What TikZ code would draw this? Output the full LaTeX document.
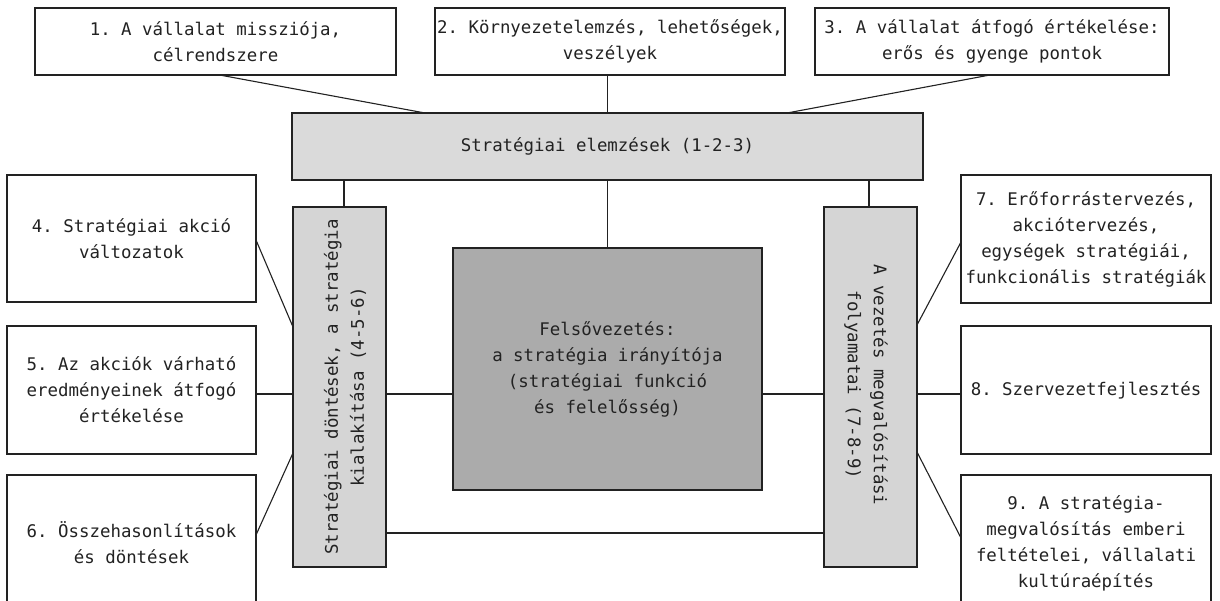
\documentclass[tikz,border=0pt]{standalone}
\usepackage{fontspec}
\setmonofont{DejaVu Sans Mono}
\usetikzlibrary{calc}
\definecolor{ink}{HTML}{222222}
\definecolor{lightfill}{HTML}{DADADA}
\definecolor{barfill}{HTML}{D5D5D5}
\definecolor{darkfill}{HTML}{ABABAB}
\tikzset{
  txt/.style={font=\ttfamily\fontsize{17.4}{26}\selectfont, align=center, text=ink},
  frame/.style={draw=ink, line width=1.2pt, fill=white, inner sep=0pt, outer sep=0pt, txt},
  lightbox/.style={frame, fill=lightfill},
  sidebar/.style={frame, fill=barfill},
  corebox/.style={frame, fill=darkfill},
  link/.style={draw=ink, line width=1.1pt}
}
\begin{document}
\begin{tikzpicture}[x=1pt, y=-1pt]
\clip (0,0) rectangle (1220,601);
\fill[white] (0,0) rectangle (1220,601);

% top row
\node[frame, minimum width=361, minimum height=67] (b1) at (215.5,41.5) {1. A vállalat missziója,\\célrendszere};
\node[frame, minimum width=350, minimum height=67] (b2) at (610,41.5) {2. Környezetelemzés, lehetőségek,\\veszélyek};
\node[frame, minimum width=354, minimum height=67] (b3) at (992,41.5) {3. A vállalat átfogó értékelése:\\erős és gyenge pontok};

% analysis bar
\node[lightbox, minimum width=631, minimum height=67] (bar) at (607.5,146.5) {Stratégiai elemzések (1-2-3)};

% side bars and core
\node[sidebar, minimum width=93, minimum height=360] (lbar) at (339.5,387) {};
\node[txt, rotate=90] (lbartext) at (345,387) {Stratégiai döntések, a stratégia\\kialakítása (4-5-6)};
\node[sidebar, minimum width=93, minimum height=360] (rbar) at (870.5,387) {};
\node[txt, rotate=-90] (rbartext) at (866,385) {A vezetés megvalósítási\\folyamatai (7-8-9)};
\node[corebox, minimum width=309, minimum height=242] (core) at (607.5,369) {Felsővezetés:\\a stratégia irányítója\\(stratégiai funkció\\és felelősség)};

% left column
\node[frame, minimum width=249, minimum height=127] (b4) at (131.5,238.5) {4. Stratégiai akció\\változatok};
\node[frame, minimum width=249, minimum height=128] (b5) at (131.5,390) {5. Az akciók várható\\eredményeinek átfogó\\értékelése};
\node[frame, minimum width=249, minimum height=135] (b6) at (131.5,542.5) {6. Összehasonlítások\\és döntések};

% right column
\node[frame, minimum width=250, minimum height=128] (b7) at (1086,239) {7. Erőforrástervezés,\\akciótervezés,\\egységek stratégiái,\\funkcionális stratégiák};
\node[frame, minimum width=250, minimum height=128] (b8) at (1086,390) {8. Szervezetfejlesztés};
\node[frame, minimum width=250, minimum height=137] (b9) at (1086,543.5) {9. A stratégia-\\megvalósítás emberi\\feltételei, vállalati\\kultúraépítés};

% reference rows for horizontal links
\coordinate (mid) at (0,394);
\coordinate (low) at (0,533);

% links from the top row
\draw[link] ([xshift=4pt]b1.south) -- ([xshift=133pt]bar.north west);
\draw[link] (bar.north) -- (bar.north |- b2.south);
\draw[link] ([xshift=-2pt]b3.south) -- ([xshift=-136pt]bar.north east);

% links below the analysis bar
\draw[link] ([xshift=4.5pt]lbar.north) -- ([xshift=4.5pt]lbar.north |- bar.south);
\draw[link] ([xshift=-1.5pt]rbar.north) -- ([xshift=-1.5pt]rbar.north |- bar.south);
\draw[link] (core.north) -- (core.north |- bar.south);

% left links
\draw[link] ([yshift=-1.5pt]b4.east) -- ([yshift=60pt]lbar.west);
\draw[link] (b5.east |- mid) -- (lbar.west |- mid);
\draw[link] ([yshift=7.5pt]b6.east) -- ([yshift=-66pt]lbar.west);

% right links
\draw[link] ([yshift=-3pt]b7.west) -- ([yshift=62pt]rbar.east);
\draw[link] (b8.west |- mid) -- (rbar.east |- mid);
\draw[link] ([yshift=5.5pt]b9.west) -- ([yshift=-65pt]rbar.east);

% core links
\draw[link] (lbar.east |- mid) -- (core.west |- mid);
\draw[link] (core.east |- mid) -- (rbar.west |- mid);
\draw[link] (lbar.east |- low) -- (rbar.west |- low);
\end{tikzpicture}
\end{document}
